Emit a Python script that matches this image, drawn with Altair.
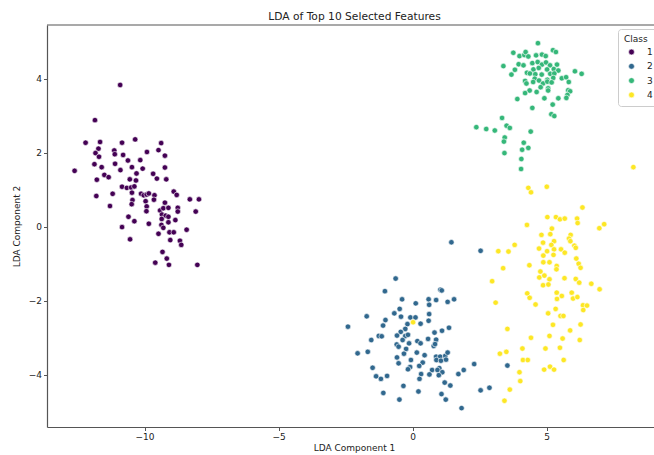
import altair as alt
import pandas as pd

# ---------------- data ----------------
class1_x = [-10.91, -11.85, -12.20, -11.66, -10.84, -10.35, -9.38, -11.72, -11.83, -11.70,
            -11.13, -11.11, -10.80, -9.91, -9.48, -9.24, -10.62, -10.16, -12.61, -11.87,
            -11.60, -11.10, -10.47, -10.90, -10.07, -9.24, -11.78, -11.50, -11.34, -10.55,
            -10.30, -10.32, -9.68, -9.54, -9.19, -10.84, -10.66, -10.50, -10.38, -11.80,
            -11.19, -10.47, -10.13, -10.03, -9.92, -9.84, -9.63, -9.65, -8.91, -8.80,
            -10.45, -10.48, -9.96, -9.92, -11.29, -9.24, -8.31, -7.97, -9.93, -9.42,
            -9.30, -9.11, -8.76, -8.76, -8.09, -9.35, -9.21, -9.36, -9.11, -10.60,
            -10.38, -8.85, -10.84, -9.84, -9.37, -9.30, -9.11, -8.43, -9.48, -9.07,
            -8.91, -10.54, -9.04, -8.68, -8.63, -9.33, -9.17, -9.60, -9.09, -8.03]
class1_y = [3.83, 2.88, 2.27, 2.29, 2.27, 2.36, 2.26, 2.11, 1.99, 1.89,
            2.06, 1.96, 1.94, 2.02, 2.07, 1.92, 1.79, 1.80, 1.51, 1.69,
            1.61, 1.70, 1.61, 1.53, 1.57, 1.60, 1.27, 1.40, 1.34, 1.28,
            1.44, 1.25, 1.43, 1.30, 1.28, 1.08, 1.05, 1.06, 1.09, 0.83,
            0.89, 0.92, 0.89, 0.85, 0.87, 0.90, 0.85, 0.73, 0.95, 0.86,
            0.72, 0.61, 0.69, 0.55, 0.56, 0.65, 0.74, 0.74, 0.42, 0.44,
            0.50, 0.51, 0.51, 0.41, 0.41, 0.33, 0.30, 0.21, 0.27, 0.27,
            0.15, 0.18, -0.01, 0.08, 0.05, -0.03, 0.12, -0.08, -0.19, -0.15,
            -0.15, -0.34, -0.36, -0.38, -0.49, -0.68, -0.86, -0.97, -1.03, -1.03]

class2_x = [1.45, 2.54, -0.63, -1.03, 1.04, 1.09, -0.39, 0.12, 0.60, 0.88,
            0.62, 1.31, 1.55, -0.48, -0.68, -1.71, -1.01, -1.10, -0.08, 0.11,
            -0.43, -0.19, 0.30, 0.62, 0.60, -2.41, -0.27, -0.44, -1.26, -1.15,
            -1.54, -0.58, -0.27, -0.17, -0.37, 0.82, 1.10, 1.36, 0.58, 0.88,
            0.18, 0.30, -0.13, -0.59, -0.52, 0.79, 0.84, -0.24, -1.67, -2.05,
            -0.32, 0.16, 0.45, 0.88, 1.03, 1.22, 1.31, -0.58, -0.06, 0.89,
            1.06, 1.25, -0.52, 0.38, 0.25, -0.09, -0.17, 0.73, 1.00, 0.93,
            1.11, 0.63, 0.98, 0.32, 2.30, 1.91, 1.71, -1.49, -1.36, -1.18,
            -0.95, 0.26, 1.20, 1.41, -0.34, 2.54, 2.87, -1.09, 0.22, 1.08,
            -0.49, 1.24, 1.83, 3.54]
class2_y = [-0.42, -0.65, -1.40, -1.74, -1.70, -1.72, -1.96, -2.07, -1.96, -1.98,
            -2.11, -2.03, -1.96, -2.22, -2.34, -2.42, -2.52, -2.67, -2.45, -2.45,
            -2.43, -2.63, -2.62, -2.36, -2.54, -2.70, -2.76, -2.84, -2.95, -2.96,
            -3.06, -2.94, -2.95, -2.92, -3.06, -2.86, -2.81, -2.73, -3.03, -3.05,
            -3.09, -3.15, -3.15, -3.18, -3.24, -3.22, -3.17, -3.30, -3.38, -3.42,
            -3.43, -3.40, -3.47, -3.51, -3.51, -3.49, -3.40, -3.53, -3.60, -3.60,
            -3.62, -3.59, -3.69, -3.67, -3.76, -3.79, -3.85, -3.87, -3.82, -3.87,
            -3.93, -3.99, -4.01, -3.98, -3.71, -3.87, -3.98, -3.81, -4.04, -4.11,
            -4.03, -4.11, -4.21, -4.29, -4.30, -4.42, -4.35, -4.49, -4.45, -4.52,
            -4.67, -4.67, -4.90, -3.75]

class3_x = [4.68, 3.76, 3.99, 4.17, 4.22, 4.32, 4.61, 4.83, 4.97, 5.24,
            5.35, 3.39, 3.96, 4.14, 4.47, 4.67, 4.83, 4.98, 5.13, 5.39,
            3.82, 3.69, 4.27, 4.51, 4.71, 5.02, 5.27, 5.44, 6.06, 6.31,
            4.38, 4.58, 4.82, 5.14, 5.29, 4.56, 4.72, 5.03, 5.25, 5.57,
            5.73, 4.20, 4.25, 4.50, 4.87, 5.03, 5.19, 5.83, 4.78, 5.06,
            5.06, 4.37, 4.63, 4.20, 5.81, 5.88, 5.78, 5.74, 5.44, 4.92,
            3.91, 5.23, 4.47, 5.18, 5.29, 3.34, 2.38, 2.75, 3.07, 3.51,
            3.63, 4.41, 3.44, 3.41, 4.15, 4.09, 4.32, 3.43, 4.06, 4.05]
class3_y = [4.96, 4.70, 4.61, 4.64, 4.72, 4.60, 4.63, 4.65, 4.61, 4.77,
            4.72, 4.34, 4.39, 4.36, 4.42, 4.45, 4.38, 4.44, 4.36, 4.38,
            4.24, 4.11, 4.16, 4.25, 4.29, 4.25, 4.26, 4.22, 4.20, 4.13,
            4.14, 4.12, 4.11, 4.13, 4.14, 4.00, 3.95, 3.97, 4.02, 4.01,
            4.04, 3.94, 3.87, 3.91, 3.87, 3.92, 3.90, 3.91, 3.77, 3.74,
            3.68, 3.68, 3.64, 3.61, 3.69, 3.66, 3.56, 3.48, 3.47, 3.47,
            3.45, 3.30, 3.21, 3.04, 2.99, 2.94, 2.69, 2.64, 2.60, 2.73,
            2.67, 2.57, 2.41, 2.30, 2.27, 2.08, 2.13, 1.99, 1.83, 1.56]

class4_x = [4.32, 4.42, 5.01, 6.34, 5.03, 5.35, 5.50, 5.68, 6.14, 6.16,
            4.27, 5.20, 6.97, 7.15, 4.81, 5.14, 5.90, 5.84, 5.89, 5.28,
            4.87, 5.18, 3.81, 6.04, 6.09, 4.72, 5.02, 5.28, 5.54, 5.68,
            3.20, 3.58, 4.88, 5.26, 6.11, 4.88, 5.11, 6.20, 6.27, 5.38,
            5.37, 4.36, 3.38, 4.77, 4.73, 4.92, 5.11, 5.67, 6.09, 6.22,
            2.97, 4.87, 5.07, 6.67, 6.98, 4.28, 4.37, 5.38, 5.57, 5.39,
            5.94, 5.99, 6.15, 3.10, 4.59, 6.36, 6.51, 6.37, 5.34, 5.06,
            5.52, 5.63, 5.24, 6.27, 5.88, 3.54, 4.42, 5.11, 5.60, 6.24,
            4.10, 4.96, 5.50, 3.26, 3.50, 4.12, 4.30, 5.64, 3.99, 4.91,
            5.13, 5.28, 4.02, 3.63, 3.43, 0.02, 8.24]
class4_y = [1.05, 0.93, 1.08, 0.52, 0.26, 0.26, 0.20, 0.22, 0.22, 0.10,
            0.05, -0.05, -0.04, 0.07, -0.22, -0.20, -0.22, -0.32, -0.39, -0.39,
            -0.43, -0.49, -0.49, -0.51, -0.57, -0.59, -0.66, -0.61, -0.61, -0.70,
            -0.66, -0.67, -0.78, -0.76, -0.86, -0.96, -0.96, -1.00, -1.11, -1.06,
            -1.15, -1.04, -1.12, -1.21, -1.37, -1.32, -1.42, -1.39, -1.41, -1.51,
            -1.47, -1.58, -1.56, -1.54, -1.69, -1.80, -1.92, -1.78, -1.87, -1.95,
            -1.78, -1.94, -1.90, -2.05, -2.10, -2.12, -2.13, -2.25, -2.22, -2.34,
            -2.41, -2.41, -2.65, -2.64, -2.80, -2.76, -3.00, -2.95, -3.02, -3.06,
            -3.29, -3.29, -3.27, -3.43, -3.38, -3.60, -3.60, -3.60, -3.93, -3.86,
            -3.78, -3.86, -4.17, -4.40, -4.70, -2.58, 1.61]

classes = ["1", "2", "3", "4"]
class_colors = ["#440154", "#31688e", "#35b779", "#fde725"]
x_ticks = [-10, -5, 0, 5]
y_ticks = [-4, -2, 0, 2, 4]

frames = []
for cls, xs, ys in zip(classes,
                       [class1_x, class2_x, class3_x, class4_x],
                       [class1_y, class2_y, class3_y, class4_y]):
    n = min(len(xs), len(ys))
    frames.append(pd.DataFrame({"x": xs[:n], "y": ys[:n], "Class": cls}))
df = pd.concat(frames, ignore_index=True)

FONT = "DejaVu Sans"
FRAME = "#555555"
TEXT = "#222222"
W, H = 607, 402

points = alt.Chart(df).mark_circle(
    size=30, opacity=1, stroke="white", strokeWidth=0.6
).encode(
    x=alt.X("x:Q",
            scale=alt.Scale(domain=[-13.64, 9.01], nice=False, zero=False),
            axis=alt.Axis(values=x_ticks, title="LDA Component 1", titleX=307,
                          titlePadding=2, grid=False, labelFlush=False)),
    y=alt.Y("y:Q",
            scale=alt.Scale(domain=[-5.41, 5.45], nice=False, zero=False),
            axis=alt.Axis(values=y_ticks, title="LDA Component 2",
                          titlePadding=7, grid=False, labelFlush=False)),
    color=alt.Color("Class:N",
                    scale=alt.Scale(domain=classes, range=class_colors),
                    legend=alt.Legend(orient="none", legendX=571, legendY=4,
                                      title="Class", titleFont=FONT, titleFontSize=9,
                                      titleFontWeight="normal", titleColor=TEXT,
                                      titlePadding=3.5, labelFont=FONT, labelFontSize=9,
                                      labelColor=TEXT, labelOffset=11, symbolOffset=3,
                                      symbolType="circle", symbolSize=34,
                                      symbolStrokeColor="white", symbolStrokeWidth=0.6,
                                      rowPadding=4.3, padding=6,
                                      strokeColor="#cccccc", fillColor="white",
                                      cornerRadius=3)),
)

top_spine = alt.Chart(pd.DataFrame({"v": [0]})).mark_rule(
    color=FRAME, strokeWidth=1.2
).encode(x=alt.value(0), x2=alt.value(W), y=alt.value(0))

chart = alt.layer(points, top_spine).properties(
    width=W, height=H,
    title=alt.TitleParams("LDA of Top 10 Selected Features", font=FONT, fontSize=10.7,
                          fontWeight="normal", color=TEXT, offset=2, dx=4,
                          anchor="middle"),
    autosize=alt.AutoSizeParams(type="none"),
    padding={"left": 47, "top": 25, "right": 0, "bottom": 28},
).configure_view(
    stroke=None
).configure_axis(
    domainColor=FRAME, domainWidth=1.2, tickColor=FRAME, tickWidth=1, tickSize=3.5,
    labelFont=FONT, labelFontSize=9, labelColor=TEXT, labelPadding=2,
    titleFont=FONT, titleFontSize=9, titleFontWeight="normal", titleColor=TEXT,
)

chart.save("out.html", embed_options={"renderer": "svg", "actions": False})
